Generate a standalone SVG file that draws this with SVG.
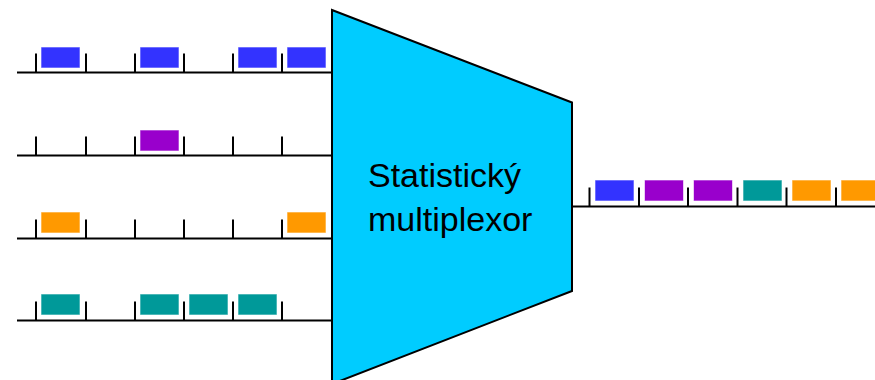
<svg xmlns="http://www.w3.org/2000/svg" width="875" height="380" viewBox="0 0 875 380">
<style>
.ln{stroke:#000;stroke-width:2;fill:none}
.tk{stroke:#000;stroke-width:2}
.b{stroke:#fff;stroke-opacity:0.6;stroke-width:1}
.blue{fill:#3333FF}.purple{fill:#9900CC}.orange{fill:#FF9900}.teal{fill:#009999}
.lbl{font-family:"Liberation Sans",Arial,sans-serif;font-size:34px;fill:#000}
</style>
<rect width="875" height="380" fill="#fff"/>
<g id="connectors">
<g id="in1">
<line class="ln" x1="17" y1="72.5" x2="332" y2="72.5"/>
<path class="tk" d="M36,53.5V72.5M86,53.5V72.5M135,53.5V72.5M184,53.5V72.5M233,53.5V72.5M282,53.5V72.5"/>
<rect class="b blue" x="41" y="47" width="39" height="21"/>
<rect class="b blue" x="140" y="47" width="39" height="21"/>
<rect class="b blue" x="238" y="47" width="39" height="21"/>
<rect class="b blue" x="287" y="47" width="39" height="21"/>
</g>
<g id="in2">
<line class="ln" x1="17" y1="155.5" x2="332" y2="155.5"/>
<path class="tk" d="M36,136.5V155.5M86,136.5V155.5M135,136.5V155.5M184,136.5V155.5M233,136.5V155.5M282,136.5V155.5"/>
<rect class="b purple" x="140" y="130" width="39" height="21"/>
</g>
<g id="in3">
<line class="ln" x1="17" y1="238.5" x2="332" y2="238.5"/>
<path class="tk" d="M36,219.5V238.5M86,219.5V238.5M135,219.5V238.5M184,219.5V238.5M233,219.5V238.5M282,219.5V238.5"/>
<rect class="b orange" x="41" y="212" width="39" height="21"/>
<rect class="b orange" x="287" y="212" width="39" height="21"/>
</g>
<g id="in4">
<line class="ln" x1="17" y1="320.5" x2="332" y2="320.5"/>
<path class="tk" d="M36,301.5V320.5M86,301.5V320.5M135,301.5V320.5M184,301.5V320.5M233,301.5V320.5M282,301.5V320.5"/>
<rect class="b teal" x="41" y="294" width="39" height="21"/>
<rect class="b teal" x="140" y="294" width="39" height="21"/>
<rect class="b teal" x="189" y="294" width="39" height="21"/>
<rect class="b teal" x="238" y="294" width="39" height="21"/>
</g>
<g id="out">
<line class="ln" x1="572" y1="206.5" x2="875" y2="206.5"/>
<path class="tk" d="M589.5,187.5V206.5M639,187.5V206.5M688,187.5V206.5M737.5,187.5V206.5M786.5,187.5V206.5M836,187.5V206.5"/>
<rect class="b blue" x="595" y="180" width="39" height="21"/>
<rect class="b purple" x="644.5" y="180" width="39" height="21"/>
<rect class="b purple" x="693.5" y="180" width="39" height="21"/>
<rect class="b teal" x="743" y="180" width="39" height="21"/>
<rect class="b orange" x="792" y="180" width="39" height="21"/>
<rect class="b orange" x="841" y="180" width="39" height="21"/>
</g>
</g>
<g id="mux">
<polygon points="332,10 572,102.5 572,291 332,384" fill="#00CCFF" stroke="#000" stroke-width="2"/>
<text class="lbl" x="368" y="187">Statistický</text>
<text class="lbl" x="368" y="230.5">multiplexor</text>
</g>
</svg>
